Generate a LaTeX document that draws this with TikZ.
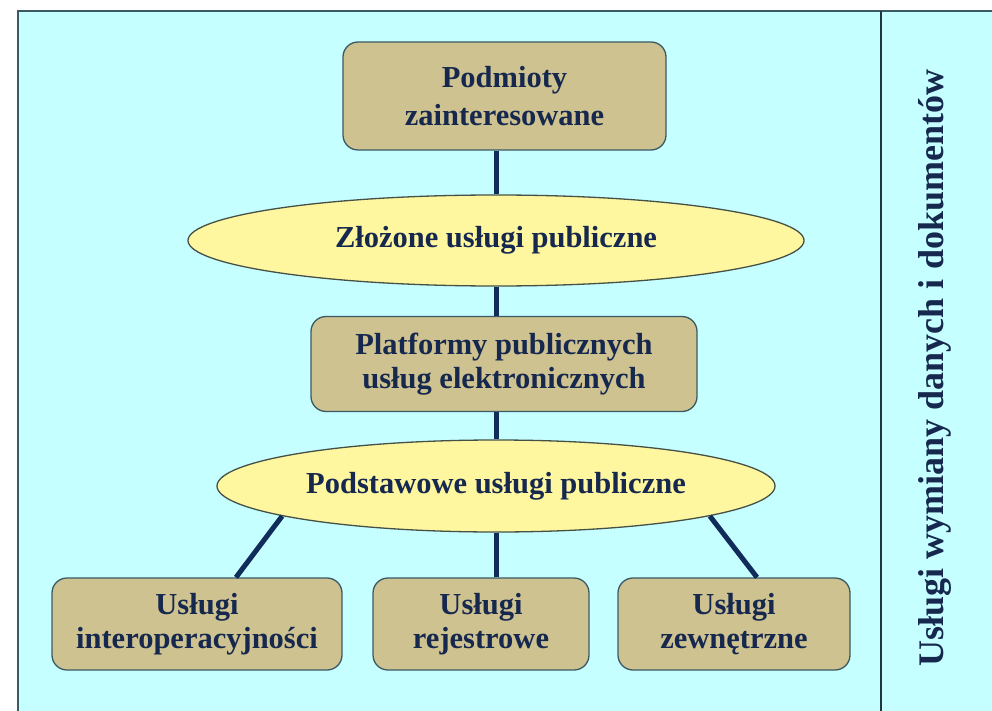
\documentclass[tikz,border=0pt]{standalone}
\usepackage{fontspec}
\setmainfont{Liberation Serif}
\usetikzlibrary{shapes.geometric}
\definecolor{bgcyan}{RGB}{198,255,255}
\definecolor{framecol}{RGB}{60,90,100}
\definecolor{tanfill}{RGB}{206,194,144}
\definecolor{ellfill}{RGB}{255,247,160}
\definecolor{ellborder}{RGB}{70,80,70}
\definecolor{linkcol}{RGB}{16,44,90}
\definecolor{txtcol}{RGB}{22,40,78}
\begin{document}
\begin{tikzpicture}[x=1pt,y=-1pt,
  boxstyle/.style={draw=framecol, line width=1.3pt, fill=tanfill, rounded corners=15pt,
    inner sep=0pt, align=center, text=txtcol, font=\fontsize{30.5}{34}\selectfont\bfseries},
  ellstyle/.style={draw=ellborder, line width=1.3pt, fill=ellfill, ellipse,
    inner sep=0pt, text=txtcol, font=\fontsize{30.5}{34}\selectfont\bfseries},
  link/.style={draw=linkcol, line width=5pt}]
\useasboundingbox (0,0) rectangle (992,711);
\fill[white] (0,0) rectangle (992,711);
\fill[bgcyan] (18,11) rectangle (992,711);
\draw[framecol, line width=1.5pt] (18,711) -- (18,11) -- (992,11);
\draw[framecol!60!black, line width=1.2pt] (881,11) -- (881,711);

\node[boxstyle, minimum width=323pt, minimum height=108pt] (pod) at (504.5,96) {Podmioty\\[4pt]zainteresowane};
\node[ellstyle, minimum width=616pt, minimum height=91pt] (zlo) at (496,240.5) {Złożone usługi publiczne};
\node[boxstyle, minimum width=386pt, minimum height=95pt] (plat) at (504,364) {Platformy publicznych\\usług elektronicznych};
\node[ellstyle, minimum width=558pt, minimum height=92pt] (pds) at (496,486) {Podstawowe usługi publiczne};
\node[boxstyle, minimum width=290pt, minimum height=92pt] (inter) at (197,624) {Usługi\\interoperacyjności};
\node[boxstyle, minimum width=216pt, minimum height=92pt] (rej) at (481,624) {Usługi\\rejestrowe};
\node[boxstyle, minimum width=232pt, minimum height=92pt] (zew) at (734,624) {Usługi\\zewnętrzne};

\node[rotate=90, text=txtcol, font=\fontsize{36}{40}\selectfont\bfseries] (side) at (935,368) {Usługi wymiany danych i dokumentów};

\draw[link] (pod.south -| zlo.north) -- (zlo.north);
\draw[link] (zlo.south) -- (zlo.south |- plat.north);
\draw[link] (zlo.south |- plat.south) -- (pds.north);
\draw[link] (pds.south) -- (pds.south |- rej.north);
\draw[link] (pds.188) -- ([xshift=39pt]inter.north);
\draw[link] (pds.352) -- ([xshift=23pt]zew.north);
\end{tikzpicture}
\end{document}
